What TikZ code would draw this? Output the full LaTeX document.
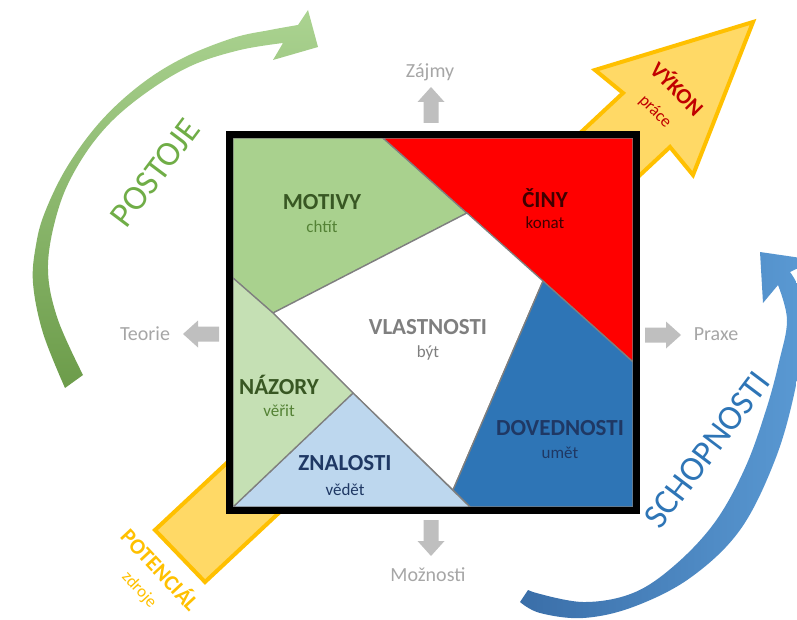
\documentclass[tikz,border=0pt]{standalone}
\usepackage{fontspec}
\setmainfont{Carlito}
\definecolor{motgreen}{RGB}{169,209,142}
\definecolor{nazgreen}{RGB}{197,224,180}
\definecolor{znablue}{RGB}{189,215,238}
\definecolor{dovblue}{RGB}{46,117,182}
\definecolor{cinred}{RGB}{255,0,0}
\definecolor{darkgreen}{RGB}{56,87,35}
\definecolor{midgreen}{RGB}{84,130,53}
\definecolor{navy}{RGB}{31,56,100}
\definecolor{cintext}{RGB}{64,0,0}
\definecolor{yfill}{RGB}{255,217,102}
\definecolor{yline}{RGB}{255,192,0}
\definecolor{vykred}{RGB}{192,0,0}
\definecolor{grayarrow}{RGB}{191,191,191}
\definecolor{graytext}{RGB}{166,166,166}
\definecolor{postgreen}{RGB}{112,173,71}
\definecolor{greendark}{RGB}{108,156,74}
\definecolor{greenlight}{RGB}{171,211,145}
\definecolor{bluedark}{RGB}{58,110,168}
\definecolor{bluelight}{RGB}{91,155,213}
\definecolor{schblue}{RGB}{46,117,182}
\definecolor{piecegray}{RGB}{127,127,127}
\tikzset{
  piece/.style={draw=piecegray, line width=1.3pt, line join=round},
  title/.style={font=\fontsize{23}{27}\selectfont\bfseries, inner sep=0pt},
  sub/.style={font=\fontsize{17}{20}\selectfont, inner sep=0pt},
  glabel/.style={font=\fontsize{20}{23}\selectfont, text=graytext, inner sep=0pt},
  grayarr/.pic={\fill[grayarrow] (0,-7.5) -- (21,-7.5) -- (21,-13.5) -- (36,0) -- (21,13.5) -- (21,7.5) -- (0,7.5) -- cycle;}
}
\begin{document}
\begin{tikzpicture}[x=1pt, y=-1pt]
\useasboundingbox (0,0) rectangle (797,620);
\clip (0,0) rectangle (797,620);

% yellow block arrow (behind the square)
\filldraw[fill=yfill, draw=yline, line width=4pt, line join=miter]
  (155,530) -- (623,93) -- (595,70) -- (753,22) -- (693,175) -- (670,147) -- (205,582) -- cycle;

% green curved arrow (POSTOJE)
\shade[top color=greenlight, bottom color=greendark]
  (65,388) -- plot[smooth, tension=0.6] coordinates {(65,388) (43,333) (33,283) (36,245) (45,212) (67,167) (100,122) (140,85) (183,58) (233,38) (270,30) (298,25)}
  -- (308,10) -- (318,47) -- (273,60)
  -- plot[smooth, tension=0.6] coordinates {(283,43) (240,50) (193,65) (150,90) (110,123) (80,162) (59,207) (48,265) (57,317) (83,375)}
  -- cycle;

% blue curved arrow (SCHOPNOSTI)
\shade[left color=bluedark, right color=bluelight]
  (520,602) -- plot[smooth, tension=0.6] coordinates {(520,602) (540,613) (583,618) (633,607) (690,578) (740,530) (775,460) (795,390) (803,330) (800,292) (790,272)}
  -- (815,260) -- (760,252) -- (763,303)
  -- plot[smooth, tension=0.6] coordinates {(778,285) (787,320) (779,362) (766,410) (745,468) (715,522) (675,565) (633,593) (583,602) (533,592)}
  -- (528,590) -- cycle;

% square pieces
\coordinate (A) at (233,138);
\coordinate (B) at (383,138);
\coordinate (C) at (633,138);
\coordinate (D) at (633,362);
\coordinate (E) at (633,507);
\coordinate (F) at (470,507);
\coordinate (G) at (233,507);
\coordinate (H) at (233,278);
\coordinate (P) at (273,313);
\coordinate (Q) at (467,213);
\coordinate (R) at (543,281);
\coordinate (S) at (453,490);
\coordinate (T) at (353,393);

\filldraw[piece, fill=motgreen] (A) -- (B) -- (Q) -- (P) -- (H) -- cycle;
\filldraw[piece, fill=cinred] (B) -- (C) -- (D) -- cycle;
\filldraw[piece, fill=white] (P) -- (Q) -- (R) -- (S) -- (T) -- cycle;
\filldraw[piece, fill=dovblue] (R) -- (D) -- (E) -- (F) -- (S) -- cycle;
\filldraw[piece, fill=znablue] (T) -- (F) -- (G) -- cycle;
\filldraw[piece, fill=nazgreen] (H) -- (P) -- (T) -- (G) -- cycle;

% frame
\draw[line width=7pt] (229.5,134.5) rectangle (636.5,510.5);

% piece labels
\node[title, text=darkgreen] (motivy) at (322,202) {MOTIVY};
\node[sub, text=midgreen] (chtit) at (322,227) {chtít};
\node[title, text=cintext] (ciny) at (545,198) {ČINY};
\node[sub, text=cintext] (konat) at (545,223) {konat};
\node[title, text=piecegray] (vlast) at (428,327) {VLASTNOSTI};
\node[sub, text=piecegray] (byt) at (428,353) {být};
\node[title, text=darkgreen] (nazory) at (279,385) {NÁZORY};
\node[sub, text=midgreen] (verit) at (279,411) {věřit};
\node[title, text=navy] (znal) at (345,463) {ZNALOSTI};
\node[sub, text=navy] (vedet) at (345,490) {vědět};
\node[title, text=navy] (doved) at (560,428) {DOVEDNOSTI};
\node[sub, text=navy] (umet) at (560,453) {umět};

% gray direction arrows
\pic[rotate=90] at (431,123) {grayarr};
\pic[rotate=-90] at (431,520) {grayarr};
\pic[rotate=180] at (219,334) {grayarr};
\pic at (645,335) {grayarr};
\node[glabel] (zajmy) at (430,72) {Zájmy};
\node[glabel] (teorie) at (145,334) {Teorie};
\node[glabel] (praxe) at (716,334) {Praxe};
\node[glabel] (moznosti) at (428,575) {Možnosti};

% arrow labels
\node[font=\fontsize{35}{40}\selectfont, text=postgreen, rotate=53, inner sep=0pt] (postoje) at (155,173) {POSTOJE};
\node[font=\fontsize{35}{40}\selectfont, text=schblue, rotate=53, inner sep=0pt] (schop) at (707,450) {SCHOPNOSTI};
\node[font=\fontsize{22}{25}\selectfont\bfseries, text=vykred, rotate=-45, inner sep=0pt] (vykon) at (678,88) {VÝKON};
\node[font=\fontsize{17}{20}\selectfont, text=vykred, rotate=-45, inner sep=0pt] (prace) at (655,112) {práce};
\node[font=\fontsize{22}{25}\selectfont\bfseries, text=yline, rotate=-47, inner sep=0pt] (potencial) at (161,569) {POTENCIÁL};
\node[font=\fontsize{17}{20}\selectfont, text=yline, rotate=-47, inner sep=0pt] (zdroje) at (139,590) {zdroje};
\end{tikzpicture}
\end{document}
